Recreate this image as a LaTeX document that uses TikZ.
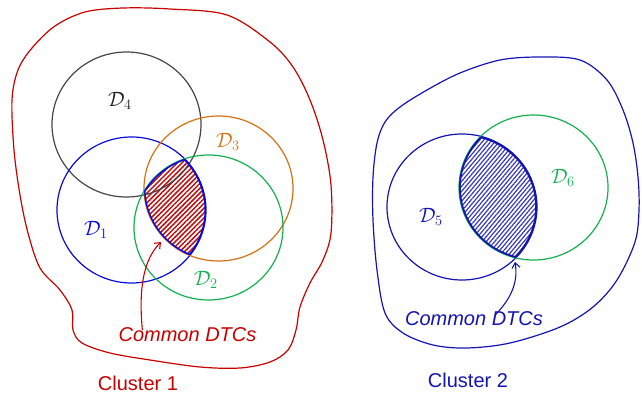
\documentclass[tikz,border=0pt]{standalone}
\usepackage{fontspec}
\setmainfont{Liberation Sans}
\usetikzlibrary{patterns.meta,arrows.meta}
\definecolor{cred}{RGB}{200,0,0}
\definecolor{hred}{RGB}{185,15,15}
\definecolor{cblue}{RGB}{10,10,220}
\definecolor{cgray}{RGB}{70,70,70}
\definecolor{corange}{RGB}{214,112,20}
\definecolor{cgreen}{RGB}{20,176,80}
\definecolor{cnavy}{RGB}{20,20,180}
\definecolor{hblue}{RGB}{55,55,185}
\tikzset{
  blob/.style={line width=1.2pt},
  ring/.style={line width=1.2pt},
  lab/.style={inner sep=0pt, font=\huge},
  txt/.style={inner sep=0pt, font=\fontsize{20}{24}\selectfont},
  callout/.style={line width=1.1pt, -{Straight Barb[length=5pt,width=8pt]}},
}
\begin{document}
\begin{tikzpicture}[x=1pt,y=-1pt]
\useasboundingbox (0,0) rectangle (642,393);
\def\dtcA{(131.5,210) ellipse [x radius=74.5pt, y radius=73pt]}
\def\dtcB{(208.5,227.5) ellipse [x radius=74.5pt, y radius=72.5pt]}
\def\dtcC{(218.5,188.5) ellipse [x radius=74.5pt, y radius=72.5pt]}
\def\dtcD{(126.5,124.5) ellipse [x radius=74.5pt, y radius=72.5pt]}
\def\dtcE{(462,207) ellipse [x radius=75pt, y radius=73pt]}
\def\dtcF{(533.5,187.5) ellipse [x radius=74.5pt, y radius=72.5pt]}

% cluster outlines
\draw[blob, cred] plot[smooth cycle, tension=0.55] coordinates {
 (123,8) (170,9) (227,15) (270,42) (293,67) (310,100) (323,140) (331,185)
 (331,233) (323,260) (310,283) (300,307) (296,330) (288,350) (270,362)
 (240,368) (200,367) (150,360) (110,353) (82,343) (73,330) (72,310)
 (60,290) (40,268) (28,233) (20,195) (14,150) (12,100) (18,70) (32,48)
 (55,26) (85,12)};
\draw[blob, cnavy] plot[smooth cycle, tension=0.55] coordinates {
 (500,60) (540,57) (580,60) (607,80) (623,110) (633,143) (638,177)
 (639,210) (635,242) (617,280) (593,307) (560,327) (510,343) (467,348)
 (433,345) (403,333) (385,313) (377,270) (373,220) (373,177) (377,143)
 (385,122) (400,107) (427,90) (460,73)};

% hatching
\begin{scope}
 \clip \dtcA; \clip \dtcB;
 \fill[pattern={Lines[angle=45,distance=3.4pt,line width=1.5pt]}, pattern color=hred] \dtcC;
\end{scope}
\begin{scope}
 \clip \dtcE;
 \fill[pattern={Lines[angle=50,distance=3.2pt,line width=1.2pt]}, pattern color=hblue] \dtcF;
\end{scope}

% circles
\draw[ring, cgray] \dtcD;
\draw[ring, cblue] \dtcA;
\draw[ring, corange] \dtcC;
\draw[ring, cgreen] \dtcB;
\draw[ring, cnavy] \dtcE;
\draw[ring, cgreen] \dtcF;

% outlines of common regions
\begin{scope}
 \clip \dtcA; \clip \dtcB; \clip \dtcC;
 \draw[cblue, line width=3pt] \dtcA \dtcB \dtcC;
\end{scope}
\begin{scope}
 \clip \dtcE; \clip \dtcF;
 \draw[cnavy, line width=3.6pt] \dtcE \dtcF;
\end{scope}

% labels
\node[lab, text=cgray!40!black] (l4) at (120,101) {$\mathcal{D}_4$};
\node[lab, text=corange] (l3) at (228,142) {$\mathcal{D}_3$};
\node[lab, text=cblue] (l1) at (96,230) {$\mathcal{D}_1$};
\node[lab, text=cgreen] (l2) at (206,280) {$\mathcal{D}_2$};
\node[lab, text=cnavy] (l5) at (431,217) {$\mathcal{D}_5$};
\node[lab, text=cgreen] (l6) at (563,178) {$\mathcal{D}_6$};

\node[txt, text=cred, font=\fontsize{20}{24}\selectfont\itshape] (c1) at (187.5,334.5) {Common DTCs};
\node[txt, text=cred] (k1) at (138,383) {Cluster 1};
\node[txt, text=cnavy, font=\fontsize{20}{24}\selectfont\itshape] (c2) at (474,318.5) {Common DTCs};
\node[txt, text=cnavy] (k2) at (468,380) {Cluster 2};

% callouts
\coordinate (t1) at (161,242);
\coordinate (t2) at (515,262);
\draw[callout, cred] ([xshift=24pt,yshift=-3pt]c1.north west) .. controls (138,285) and (145,258) .. (t1);
\draw[callout, cnavy] ([xshift=90pt,yshift=-4pt]c2.north west) .. controls (513,297) and (518,280) .. (t2);
\end{tikzpicture}
\end{document}
